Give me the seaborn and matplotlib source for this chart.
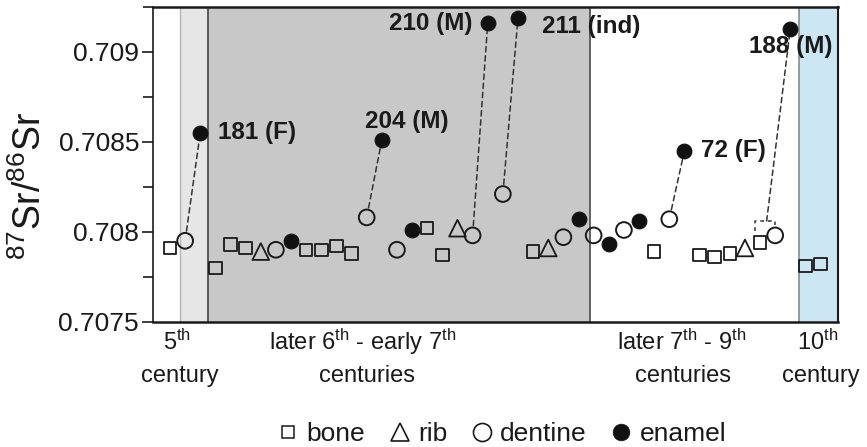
import matplotlib
matplotlib.use("Agg")
import matplotlib.pyplot as plt
import matplotlib.transforms as mtransforms
from matplotlib.lines import Line2D
from matplotlib.ticker import MultipleLocator
import numpy as np
import pandas as pd
import seaborn as sns

# Samples in burial order along the x axis
tissue = ["bone", "dentine", "enamel", "bone", "bone", "bone", "rib", "dentine",
          "enamel", "bone", "bone", "bone", "bone", "dentine", "enamel", "dentine",
          "enamel", "bone", "bone", "rib", "dentine", "enamel", "dentine", "enamel",
          "bone", "rib", "dentine", "enamel", "dentine", "enamel", "dentine", "enamel",
          "bone", "dentine", "enamel", "bone", "bone", "bone", "rib", "bone",
          "dentine", "enamel", "bone", "bone"]
sr_ratio = [0.70791, 0.70795, 0.70855, 0.70780, 0.70793, 0.70791, 0.70789, 0.70790,
            0.70795, 0.70790, 0.70790, 0.70792, 0.70788, 0.70808, 0.70851, 0.70790,
            0.70801, 0.70802, 0.70787, 0.70802, 0.70798, 0.70916, 0.70821, 0.70919,
            0.70789, 0.70791, 0.70797, 0.70807, 0.70798, 0.70793, 0.70801, 0.70806,
            0.70789, 0.70807, 0.70845, 0.70787, 0.70786, 0.70788, 0.70791, 0.70794,
            0.70798, 0.70913, 0.70781, 0.70782]

# Labelled individuals (index of enamel sample -> label)
individual_idx = [2, 14, 21, 23, 34, 41]
individual_lbl = ["181 (F)", "204 (M)", "210 (M)", "211 (ind)", "72 (F)", "188 (M)"]
# dentine -> enamel pairs joined by dashed lines
pair_dentine = [1, 13, 20, 22, 33]
pair_enamel = [2, 14, 21, 23, 34]
# individual 188: bone + dentine bracketed, joined to enamel
bracket_samples = [39, 40]
bracket_enamel = 41

period_line1 = ["5$^{th}$", "later 6$^{th}$ - early 7$^{th}$", "later 7$^{th}$ - 9$^{th}$", "10$^{th}$"]
period_line2 = ["century", "centuries", "centuries", "century"]

legend_labels = ["bone", "rib", "dentine", "enamel"]

df = pd.DataFrame({"pos": np.arange(len(tissue)), "sr": sr_ratio, "tissue": tissue})

sns.set_theme(style="ticks")
plt.rcParams["font.family"] = ["Liberation Sans", "DejaVu Sans"]
plt.rcParams["mathtext.default"] = "regular"

fig = plt.figure(figsize=(8.67, 4.47), dpi=100)
W, H = 867, 447
ax = fig.add_axes([153 / W, 1 - 321.7 / H, (838 - 153) / W, (321.7 - 7) / H])

step = 15.13
x0_px = 170
xmin = (153 - x0_px) / step
xmax = (838 - x0_px) / step
ax.set_xlim(xmin, xmax)
ax.set_ylim(0.7075, 0.70925)

# period backgrounds
b1, b2, b3, b4 = 0.66, 2.51, 27.76, 41.57
ax.axvspan(b1, b2, color="#e6e6e6", zorder=0, lw=0)
ax.axvspan(b2, b3, color="#c8c8c8", zorder=0, lw=0)
ax.axvspan(b4, xmax, color="#cde6f4", zorder=0, lw=0)
ax.axvline(b1, color="#b5b5b5", lw=1.0, zorder=0.5)
ax.axvline(b2, color="#5a5a5a", lw=1.4, zorder=0.5)
ax.axvline(b3, color="#4a4a4a", lw=1.2, zorder=0.5)
ax.axvline(b4, color="#8a8a8a", lw=1.2, zorder=0.5)

marker_style = {
    "bone": dict(marker="s", s=9.0 ** 2, facecolor="none", edgecolor="#1a1a1a", linewidth=1.3),
    "rib": dict(marker="^", s=12.0 ** 2, facecolor="none", edgecolor="#1a1a1a", linewidth=1.3),
    "dentine": dict(marker="o", s=11.3 ** 2, facecolor="none", edgecolor="#1a1a1a", linewidth=1.4),
    "enamel": dict(marker="o", s=10.6 ** 2, facecolor="#111111", edgecolor="#111111", linewidth=0.8),
}
for t in ["bone", "rib", "dentine", "enamel"]:
    sub = df[df["tissue"] == t]
    sns.scatterplot(data=sub, x="pos", y="sr", ax=ax, zorder=4, legend=False,
                    **marker_style[t])

dash_kw = dict(arrowstyle="-", color="#333333", lw=1.1, linestyle=(0, (3.5, 2.5)))
for d, e in zip(pair_dentine, pair_enamel):
    ax.annotate("", xy=(e, sr_ratio[e]), xytext=(d, sr_ratio[d]),
                arrowprops=dict(shrinkA=7, shrinkB=6, **dash_kw), zorder=3)

# bracket over bone + dentine of individual 188
bx0 = bracket_samples[0] - 0.33
bx1 = bracket_samples[1]
btop = max(sr_ratio[i] for i in bracket_samples) + 0.00008
ax.plot([bx0, bx0, bx1, bx1], [btop - 0.000055, btop, btop, btop - 0.00002],
        color="#333333", lw=1.1, linestyle=(0, (2.5, 2.5)), zorder=3)
ax.annotate("", xy=(bracket_enamel, sr_ratio[bracket_enamel]),
            xytext=((bx0 + bx1) / 2 + 0.1, btop),
            arrowprops=dict(shrinkA=0, shrinkB=6, **dash_kw), zorder=3)

# individual labels
label_offsets = {
    "181 (F)": ((13, 0), "left", "center"),
    "204 (M)": ((-12, 9), "left", "baseline"),
    "210 (M)": ((-11, 0), "right", "center"),
    "211 (ind)": ((17, -6.5), "left", "center"),
    "72 (F)": ((12, 0), "left", "center"),
    "188 (M)": ((-30, -12.7), "left", "center"),
}
for i, lbl in zip(individual_idx, individual_lbl):
    off, ha, va = label_offsets[lbl]
    ax.annotate(lbl, xy=(i, sr_ratio[i]), xytext=off, textcoords="offset points",
                ha=ha, va=va, fontsize=17.5, fontweight="bold", color="#1a1a1a", zorder=5)

# axes styling
ax.set_xticks([])
ax.yaxis.set_major_locator(MultipleLocator(0.0005))
ax.yaxis.set_minor_locator(MultipleLocator(0.00025))
ax.set_yticks([0.7075, 0.708, 0.7085, 0.709])
ax.set_yticklabels(["0.7075", "0.708", "0.7085", "0.709"])
ax.tick_params(axis="y", which="major", length=8, width=1.2, direction="out",
               labelsize=19, pad=2, colors="#1a1a1a")
ax.tick_params(axis="y", which="minor", length=7, width=1.2, direction="out", colors="#1a1a1a")
for side in ["left", "right", "top", "bottom"]:
    ax.spines[side].set_visible(True)
    ax.spines[side].set_color("#1a1a1a")
ax.spines["left"].set_linewidth(1.2)
ax.spines["right"].set_linewidth(1.5)
ax.spines["top"].set_linewidth(1.8)
ax.spines["bottom"].set_linewidth(1.8)
ax.set_xlabel("")
ax.set_ylabel("$^{87}$Sr/$^{86}$Sr", fontsize=27, color="#1a1a1a")
ax.yaxis.set_label_coords((49 - 153) / (838 - 153), (321.7 - 186.5) / (321.7 - 7))

# period labels below the axis
trans = mtransforms.blended_transform_factory(ax.transData, fig.transFigure)
line1_x = [0.45, 12.7, 33.8, 42.8]
line2_x = [0.65, 13.0, 33.9, 43.0]
for x, t in zip(line1_x, period_line1):
    ax.text(x, 1 - 350 / H, t, transform=trans, ha="center", va="baseline",
            fontsize=17, color="#1a1a1a")
for x, t in zip(line2_x, period_line2):
    ax.text(x, 1 - 382 / H, t, transform=trans, ha="center", va="baseline",
            fontsize=17, color="#1a1a1a")

handles = [
    Line2D([], [], ls="none", marker="s", ms=8.5, mfc="none", mec="#1a1a1a", mew=1.1),
    Line2D([], [], ls="none", marker="^", ms=13, mfc="none", mec="#1a1a1a", mew=1.2),
    Line2D([], [], ls="none", marker="o", ms=13, mfc="none", mec="#1a1a1a", mew=1.2),
    Line2D([], [], ls="none", marker="o", ms=12, mfc="#111111", mec="#111111", mew=0.5),
]
fig.legend(handles, legend_labels, ncol=4, loc="center", bbox_to_anchor=(502 / W, 1 - 434 / H),
           frameon=False, fontsize=19, handletextpad=0.3, columnspacing=0.9,
           handlelength=0.8, borderpad=0, labelcolor="#1a1a1a")

fig.savefig("out.png", dpi=100, facecolor="white")
